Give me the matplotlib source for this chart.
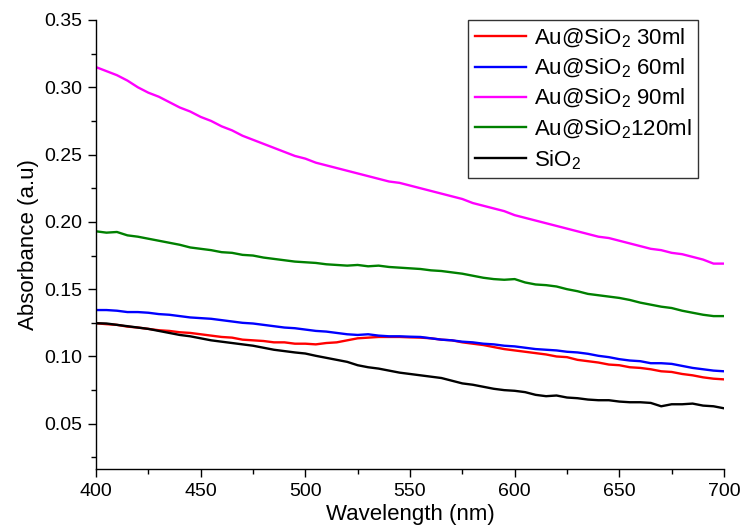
"""UV-Vis absorbance spectra of Au@SiO2 samples and bare SiO2."""

import matplotlib

matplotlib.use("Agg")
import matplotlib.pyplot as plt
from matplotlib.ticker import FormatStrFormatter, MultipleLocator

plt.rcParams["font.family"] = ["Liberation Sans", "DejaVu Sans"]
plt.rcParams["mathtext.fontset"] = "custom"
plt.rcParams["mathtext.rm"] = "Liberation Sans"
plt.rcParams["mathtext.it"] = "Liberation Sans:italic"

wavelength = list(range(400, 701, 5))

au_sio2_30 = [
    0.1247, 0.1240, 0.1235, 0.1222, 0.1215, 0.1205, 0.1195, 0.1190, 0.1180, 0.1175,
    0.1165, 0.1155, 0.1145, 0.1140, 0.1125, 0.1120, 0.1115, 0.1105, 0.1105, 0.1095,
    0.1095, 0.1090, 0.1100, 0.1105, 0.1120, 0.1135, 0.1140, 0.1145, 0.1145, 0.1145,
    0.1142, 0.1140, 0.1135, 0.1125, 0.1120, 0.1105, 0.1095, 0.1085, 0.1070, 0.1055,
    0.1045, 0.1035, 0.1025, 0.1015, 0.1000, 0.0995, 0.0975, 0.0965, 0.0955, 0.0940,
    0.0935, 0.0920, 0.0915, 0.0905, 0.0890, 0.0885, 0.0870, 0.0860, 0.0845, 0.0835,
    0.0830,
]
au_sio2_60 = [
    0.1345, 0.1345, 0.1340, 0.1330, 0.1330, 0.1325, 0.1315, 0.1310, 0.1300, 0.1290,
    0.1285, 0.1280, 0.1270, 0.1260, 0.1250, 0.1245, 0.1235, 0.1225, 0.1215, 0.1210,
    0.1200, 0.1190, 0.1185, 0.1175, 0.1165, 0.1160, 0.1165, 0.1155, 0.1150, 0.1150,
    0.1147, 0.1145, 0.1135, 0.1125, 0.1120, 0.1110, 0.1105, 0.1095, 0.1090, 0.1080,
    0.1075, 0.1065, 0.1055, 0.1050, 0.1045, 0.1035, 0.1030, 0.1020, 0.1005, 0.0995,
    0.0980, 0.0970, 0.0965, 0.0950, 0.0950, 0.0945, 0.0930, 0.0915, 0.0905, 0.0895,
    0.0890,
]
au_sio2_90 = [
    0.3150, 0.3120, 0.3090, 0.3050, 0.3000, 0.2960, 0.2930, 0.2890, 0.2850, 0.2820,
    0.2780, 0.2750, 0.2710, 0.2680, 0.2640, 0.2610, 0.2580, 0.2550, 0.2520, 0.2490,
    0.2470, 0.2440, 0.2420, 0.2400, 0.2380, 0.2360, 0.2340, 0.2320, 0.2300, 0.2290,
    0.2270, 0.2250, 0.2230, 0.2210, 0.2190, 0.2170, 0.2140, 0.2120, 0.2100, 0.2080,
    0.2050, 0.2030, 0.2010, 0.1990, 0.1970, 0.1950, 0.1930, 0.1910, 0.1890, 0.1880,
    0.1860, 0.1840, 0.1820, 0.1800, 0.1790, 0.1770, 0.1760, 0.1740, 0.1720, 0.1690,
    0.1690,
]
au_sio2_120 = [
    0.1930, 0.1920, 0.1925, 0.1900, 0.1890, 0.1875, 0.1860, 0.1845, 0.1830, 0.1810,
    0.1800, 0.1790, 0.1775, 0.1770, 0.1755, 0.1750, 0.1735, 0.1725, 0.1715, 0.1705,
    0.1700, 0.1695, 0.1685, 0.1680, 0.1675, 0.1680, 0.1670, 0.1675, 0.1665, 0.1660,
    0.1655, 0.1650, 0.1640, 0.1635, 0.1625, 0.1615, 0.1600, 0.1585, 0.1575, 0.1570,
    0.1575, 0.1550, 0.1535, 0.1530, 0.1520, 0.1500, 0.1485, 0.1465, 0.1455, 0.1445,
    0.1435, 0.1420, 0.1400, 0.1385, 0.1370, 0.1360, 0.1340, 0.1325, 0.1310, 0.1300,
    0.1300,
]
sio2 = [
    0.1247, 0.1245, 0.1235, 0.1225, 0.1215, 0.1205, 0.1190, 0.1175, 0.1160, 0.1150,
    0.1135, 0.1120, 0.1110, 0.1100, 0.1090, 0.1080, 0.1065, 0.1050, 0.1040, 0.1030,
    0.1022, 0.1005, 0.0990, 0.0975, 0.0960, 0.0935, 0.0920, 0.0910, 0.0895, 0.0880,
    0.0870, 0.0860, 0.0850, 0.0840, 0.0820, 0.0800, 0.0790, 0.0775, 0.0760, 0.0750,
    0.0745, 0.0735, 0.0715, 0.0705, 0.0710, 0.0695, 0.0690, 0.0680, 0.0675, 0.0675,
    0.0665, 0.0660, 0.0660, 0.0655, 0.0630, 0.0645, 0.0645, 0.0650, 0.0635, 0.0630,
    0.0615,
]

series = [
    ("Au@SiO$_2$ 30ml", au_sio2_30, "#ff0000"),
    ("Au@SiO$_2$ 60ml", au_sio2_60, "#0000ff"),
    ("Au@SiO$_2$ 90ml", au_sio2_90, "#ff00ff"),
    ("Au@SiO$_2$120ml", au_sio2_120, "#008000"),
    ("SiO$_2$", sio2, "#000000"),
]

fig = plt.figure(figsize=(7.42, 5.27), dpi=100)
ax = fig.add_axes([96 / 742, 1 - 469 / 527, 628 / 742, 449 / 527])

for label, values, color in series:
    ax.plot(wavelength, values, color=color, lw=1.7, label=label)

ax.set_xlim(400, 700)
ax.set_ylim(0.0164, 0.35)
ax.xaxis.set_major_locator(MultipleLocator(50))
ax.xaxis.set_minor_locator(MultipleLocator(25))
ax.yaxis.set_major_locator(MultipleLocator(0.05))
ax.yaxis.set_minor_locator(MultipleLocator(0.025))
ax.yaxis.set_major_formatter(FormatStrFormatter("%.2f"))

for side in ("top", "right"):
    ax.spines[side].set_visible(False)
for side in ("left", "bottom"):
    ax.spines[side].set_linewidth(1.0)

ax.tick_params(which="major", direction="out", length=6, width=1.0, labelsize=14, pad=4)
ax.tick_params(which="minor", direction="out", length=3.5, width=1.0)

ax.set_xlabel("Wavelength (nm)", fontsize=16, labelpad=3)
ax.set_ylabel("Absorbance (a.u)", fontsize=16, labelpad=4)

leg = ax.legend(
    loc="upper right",
    bbox_to_anchor=(698 / 742, 1 - 20 / 527),
    bbox_transform=fig.transFigure,
    borderaxespad=0,
    fontsize=16,
    frameon=True,
    fancybox=False,
    handlelength=2.3,
    handletextpad=0.35,
    labelspacing=0.32,
    borderpad=0.3,
)
leg.get_frame().set_edgecolor("black")
leg.get_frame().set_linewidth(1.0)

fig.savefig("out.png", dpi=100)
